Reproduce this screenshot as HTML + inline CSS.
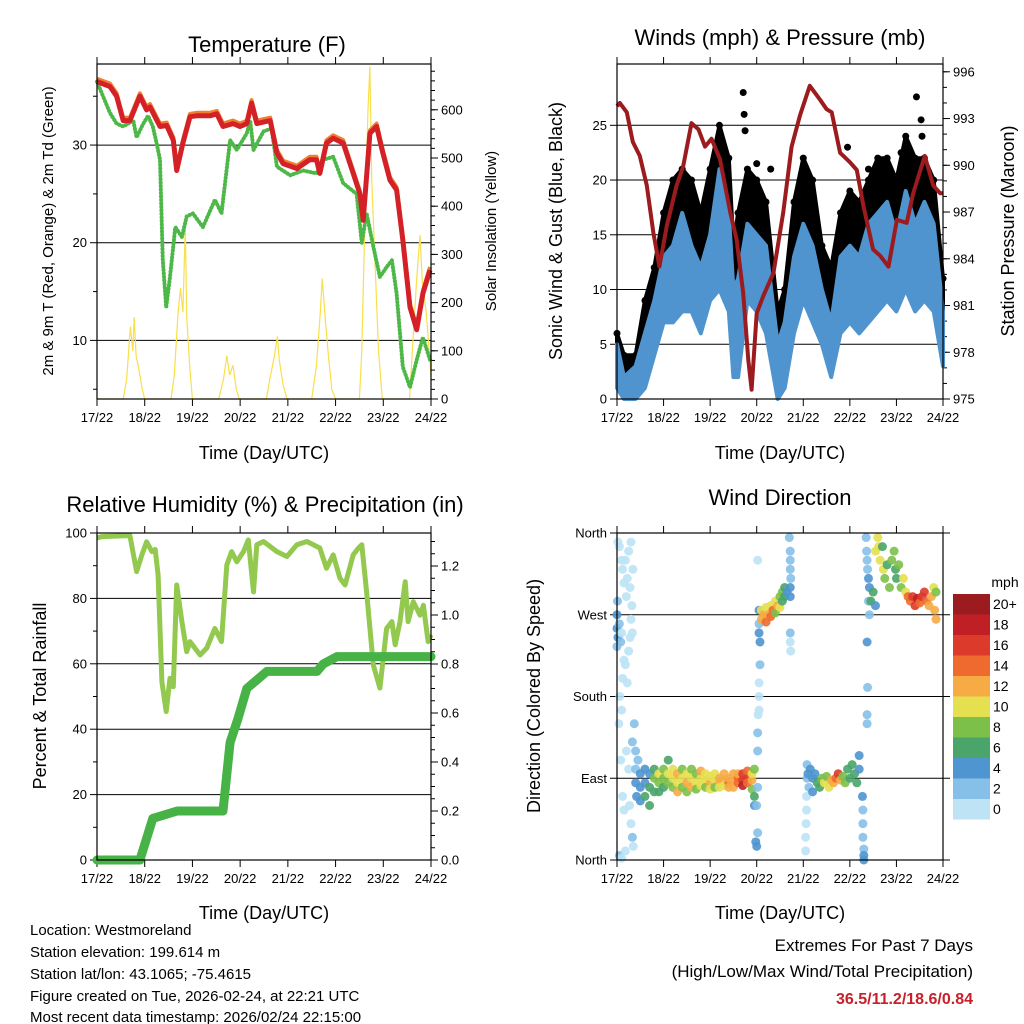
<!DOCTYPE html>
<html><head><meta charset="utf-8"><style>
html,body{margin:0;padding:0;background:#fff;}
svg{display:block;font-family:"Liberation Sans",Arial,sans-serif;}
</style></head><body>
<svg id="c" width="1024" height="1024" viewBox="0 0 1024 1024" xmlns="http://www.w3.org/2000/svg">
<rect width="1024" height="1024" fill="#fff"/>
<text x="267" y="52" font-size="22" text-anchor="middle">Temperature (F)</text>
<text x="780" y="45" font-size="22" text-anchor="middle">Winds (mph) &amp; Pressure (mb)</text>
<text x="265" y="512" font-size="22" text-anchor="middle">Relative Humidity (%) &amp; Precipitation (in)</text>
<text x="780" y="505" font-size="22" text-anchor="middle">Wind Direction</text>
<text x="264" y="459" font-size="18" text-anchor="middle">Time (Day/UTC)</text>
<text x="780" y="459" font-size="18" text-anchor="middle">Time (Day/UTC)</text>
<text x="264" y="919" font-size="18" text-anchor="middle">Time (Day/UTC)</text>
<text x="780" y="919" font-size="18" text-anchor="middle">Time (Day/UTC)</text>
<text transform="translate(53,231) rotate(-90)" font-size="15" text-anchor="middle">2m &amp; 9m T (Red, Orange) &amp; 2m Td (Green)</text>
<text transform="translate(496,231) rotate(-90)" font-size="15" text-anchor="middle">Solar Insolation (Yellow)</text>
<text transform="translate(562,231) rotate(-90)" font-size="18" text-anchor="middle">Sonic Wind &amp; Gust (Blue, Black)</text>
<text transform="translate(1014,231) rotate(-90)" font-size="18" text-anchor="middle">Station Pressure (Maroon)</text>
<text transform="translate(46,696) rotate(-90)" font-size="18" text-anchor="middle">Percent &amp; Total Rainfall</text>
<text transform="translate(540,696) rotate(-90)" font-size="18" text-anchor="middle">Direction (Colored By Speed)</text>
<g font-size="15">
<text x="30" y="935">Location: Westmoreland</text>
<text x="30" y="957">Station elevation: 199.614 m</text>
<text x="30" y="979">Station lat/lon: 43.1065; -75.4615</text>
<text x="30" y="1001">Figure created on Tue, 2026-02-24, at 22:21 UTC</text>
<text x="30" y="1023" dy="-1">Most recent data timestamp: 2026/02/24 22:15:00</text>
</g>
<g font-size="17" text-anchor="end">
<text x="973" y="951">Extremes For Past 7 Days</text>
<text x="973" y="977">(High/Low/Max Wind/Total Precipitation)</text>
<text x="973" y="1004" fill="#c8202a" font-weight="bold" font-size="16">36.5/11.2/18.6/0.84</text>
</g>
<text x="1005" y="587" font-size="14" text-anchor="middle">mph</text>
</svg>
<script>
const dayLabels=["17/22","18/22","19/22","20/22","21/22","22/22","23/22","24/22"];
// Temperature panel
const tempT=[0,0.27,0.41,0.55,0.69,0.90,1.04,1.11,1.32,1.46,1.60,1.67,1.80,1.95,2.09,2.37,2.51,2.64,2.85,3.0,3.14,3.24,3.35,3.63,3.77,3.90,4.19,4.46,4.60,4.67,4.81,4.95,5.16,5.37,5.51,5.58,5.72,5.86,5.99,6.14,6.28,6.41,6.56,6.70,6.83,6.98];
const tempV=[36.5,36,35,32.5,32.5,35,33.6,33.9,31.9,32,30.5,27.4,30.2,32.9,33,33,33.2,31.9,32.2,31.9,32.2,34.3,32.2,32.5,29.2,28.1,27.6,28.5,28.5,27.1,30.2,30.7,30.2,27.1,25,22.3,31.2,31.9,29.2,26.4,25.4,20.3,13.4,11.1,14.8,17.2];
const dewT=[0,0.27,0.41,0.55,0.76,0.83,0.97,1.07,1.17,1.25,1.32,1.38,1.45,1.53,1.64,1.78,1.88,2.01,2.22,2.47,2.61,2.79,2.93,3.14,3.21,3.28,3.49,3.66,3.77,4.05,4.32,4.60,4.74,4.95,5.16,5.44,5.55,5.65,5.79,5.93,6.07,6.18,6.28,6.41,6.56,6.70,6.83,6.98];
const dewV=[36.5,33.3,32.2,31.9,32.5,30.8,32.2,33,31.9,30.2,28.5,18.2,13.4,16.5,21.6,20.6,22.7,23,21.6,24.4,23,30.5,29.5,31.2,32.5,29.5,31.4,31.7,27.8,26.9,27.4,27.1,28.5,28.8,26.1,25,20,23,19.6,16.5,17.5,18.2,14.8,7.3,5.2,8,10.3,8];
const solarT=[0,0.55,0.62,0.7,0.75,0.78,0.82,0.88,0.95,1.0,1.55,1.62,1.7,1.75,1.8,1.85,1.88,1.95,2.0,2.55,2.65,2.72,2.78,2.85,2.92,2.98,3.55,3.62,3.72,3.78,3.82,3.9,3.98,4.5,4.6,4.68,4.72,4.78,4.85,4.92,5.0,5.5,5.55,5.62,5.68,5.72,5.76,5.82,5.9,5.98,6.55,6.62,6.7,6.77,6.82,6.9,7.0];
const solarV=[0,0,40,150,100,170,90,60,20,0,0,50,180,230,180,360,170,60,0,0,40,90,50,70,20,0,0,40,90,130,80,30,0,0,70,180,250,170,90,20,0,0,100,400,600,690,450,300,100,0,0,120,250,340,240,180,50];
// Winds panel
const presT=[0,0.06,0.21,0.34,0.49,0.64,0.78,0.91,1.07,1.28,1.42,1.60,1.75,1.89,2.03,2.21,2.43,2.57,2.71,2.82,2.89,3.0,3.14,3.36,3.57,3.75,3.93,4.14,4.36,4.50,4.61,4.79,5.0,5.15,5.29,5.50,5.65,5.83,6.01,6.22,6.36,6.61,6.79,6.94,7.0];
const presV=[993.8,994.0,993.4,991.5,990.6,988.7,985.7,983.5,986.1,988.7,989.9,992.7,992.3,991.2,991.7,990.4,987.0,985.2,981.8,977.5,975.6,980.5,981.6,983.1,987.0,991.2,993.2,995.1,994.2,993.6,993.4,990.8,990.2,989.7,987.4,984.6,984.2,983.5,986.5,986.3,988.2,990.6,988.7,988.2,988.2];
const windT=[0,0.15,0.4,0.6,0.8,1.0,1.2,1.4,1.6,1.8,2.0,2.2,2.4,2.5,2.6,2.8,3.0,3.2,3.45,3.6,3.8,4.0,4.2,4.4,4.6,4.8,5.0,5.2,5.4,5.6,5.8,6.0,6.2,6.4,6.6,6.8,7.0];
const windHi=[5,2,3,6,9,13,14,17,14,12,15,21,17,10,11,16,15,14,5,7,13,16,14,10,7,13,14,13,16,17,18,15,19,16,18,16,8];
const windLo=[1,0,0,1,4,7,7,8,8,6,9,10,8,2,2,9,8,6,0,1,6,9,7,5,2,6,7,6,7,8,9,8,10,8,9,8,3];
const gustHi=[6,4,4,9,12,17,20,21,20,17,21,25,22,14,17,21,20,18,8,10,18,22,20,14,12,17,19,18,20,22,22,20,24,22,22,20,11];
const gustLo=[2,1,1,3,6,10,11,12,11,9,12,14,12,5,6,13,12,10,2,3,10,13,11,7,4,9,11,9,11,12,12,11,13,12,12,11,6];
const gustOutT=[2.71,2.73,2.75,6.43,6.53,6.55,2.2,3.0,4.95,5.4,1.35,6.1,3.3];
const gustOutV=[28,26,24.5,27.6,25.5,24,22,21.5,23,21,20.5,22.5,21];
// RH panel
const rhT=[0,0.10,0.69,0.83,0.94,1.04,1.15,1.22,1.28,1.36,1.45,1.53,1.60,1.67,1.78,1.88,1.95,2.16,2.30,2.47,2.61,2.72,2.82,2.93,3.07,3.17,3.28,3.35,3.49,3.77,3.98,4.19,4.40,4.67,4.81,4.95,5.09,5.20,5.37,5.48,5.55,5.65,5.79,5.93,6.07,6.18,6.25,6.35,6.46,6.52,6.63,6.77,6.84,6.94,7.0];
const rhV=[98.5,98.9,99.2,88.2,93.3,97.3,94.3,95,87.2,54.5,45.4,55.6,53,84.1,72.9,63.7,66.8,62.7,64.8,70.8,66.8,90.2,94.3,91.2,94.3,97.9,82,96.4,97.4,94.3,92.8,96.4,97.4,95.4,89.2,93.3,86.2,84.1,93.3,95.4,96.4,82,59.6,52.6,70.8,72.9,65.8,72.9,85.1,72.9,79,74.9,77.9,66.8,68.9];
const rainT=[0,0.90,1.17,1.68,2.64,2.79,2.96,3.14,3.56,4.61,4.74,5.03,7.0];
const rainV=[0,0,0.17,0.2,0.2,0.48,0.58,0.70,0.77,0.77,0.80,0.83,0.83];
// Wind direction panel: [time(days), direction(deg), speed(mph)]
const dirPts=[[0.02,350,1],[0.05,345,0],[0.1,330,1],[0.12,320,0],[0.15,305,1],[0.18,330,0],[0.2,290,1],[0.22,310,0],[0.25,340,1],[0.28,300,0],[0.3,350,1],[0.32,280,0],[0.34,320,1],[0.0,270,4],[0.0,255,4],[0.01,285,3],[0.02,245,4],[0.0,235,3],[0.05,260,3],[0.08,240,2],[0.1,250,1],[0.15,220,1],[0.12,200,1],[0.18,215,0],[0.22,195,0],[0.25,230,1],[0.28,245,1],[0.3,265,0],[0.33,250,1],[0.06,180,1],[0.1,165,0],[0.04,150,0],[0.2,120,1],[0.25,100,1],[0.08,110,0],[0.15,55,0],[0.3,40,1],[0.33,25,2],[0.35,15,1],[0.12,70,1],[0.27,60,0],[0.05,5,2],[0.1,2,1],[0.18,10,0],[0.33,130,2],[0.37,150,3],[0.4,120,3],[0.4,100,3],[0.4,85,4],[0.42,70,4],[0.45,110,3],
[0.5,95,4],[0.5,80,5],[0.5,65,4],[0.6,100,4],[0.6,85,5],[0.6,70,6],[0.7,95,5],[0.7,80,6],[0.7,60,6],[0.8,90,8],[0.8,75,7],[0.8,100,6],[0.9,85,8],[0.9,95,10],[0.9,75,7],[1.0,90,9],[1.0,100,8],[1.0,80,7],[1.1,95,10],[1.1,85,9],[1.1,110,7],[1.2,90,11],[1.2,100,10],[1.2,80,9],[1.3,95,13],[1.3,85,10],[1.3,75,12],[1.4,90,10],[1.4,80,9],[1.4,100,8],[1.5,85,12],[1.5,95,10],[1.5,75,9],[1.6,90,11],[1.6,80,12],[1.6,100,9],[1.7,85,10],[1.7,95,9],[1.7,78,8],[1.8,90,11],[1.8,82,10],[1.8,98,12],[1.9,88,10],[1.9,80,9],[1.9,95,11],[2.0,85,12],[2.0,92,10],[2.0,78,11],[2.1,88,10],[2.1,80,9],[2.1,95,10],[2.2,85,12],[2.2,90,13],[2.2,80,11],[2.3,88,12],[2.3,82,10],[2.3,95,12],[2.4,85,14],[2.4,90,12],[2.4,80,13],[2.5,88,12],[2.5,95,13],[2.5,80,12],[2.6,90,15],[2.6,85,14],[2.6,95,12],[2.7,88,17],[2.7,82,18],[2.7,95,16],[2.8,90,16],[2.8,85,14],[2.8,98,15],[2.9,88,12],[2.9,78,8],[2.9,95,10],[2.95,70,6],[2.95,60,5],[2.95,100,9],
[3.0,15,4],[2.98,20,4],[3.02,30,2],[3.0,60,2],[3.02,80,2],[3.02,120,3],[3.02,140,2],[3.03,160,1],[3.05,165,0],[3.05,180,1],[3.05,195,1],[3.07,215,3],[3.07,240,4],[3.05,250,4],[3.05,260,3],[3.05,275,4],[3.02,330,1],
[3.1,265,12],[3.1,275,10],[3.15,270,13],[3.2,262,14],[3.2,278,11],[3.25,270,12],[3.3,268,14],[3.3,280,10],[3.35,275,15],[3.4,285,11],[3.4,272,9],[3.45,280,13],[3.5,290,8],[3.5,278,10],[3.55,285,7],[3.55,295,9],[3.6,290,6],[3.6,300,6],[3.65,295,5],
[3.7,355,3],[3.72,340,3],[3.72,330,2],[3.72,320,3],[3.73,310,3],[3.72,300,4],[3.72,290,5],[3.72,250,2],[3.72,240,1],[3.73,230,1],
[4.05,10,1],[4.05,25,1],[4.06,40,0],[4.07,55,1],[4.07,70,1],[4.08,90,2],[4.08,105,3],[4.1,95,4],[4.12,80,3],[4.15,100,4],[4.2,90,4],[4.2,75,5],[4.25,95,4],[4.3,85,6],[4.35,80,7],[4.4,90,8],[4.45,85,10],[4.5,92,9],[4.55,80,10],[4.6,88,12],[4.65,85,12],[4.7,90,14],[4.75,95,16],[4.8,88,12],[4.85,92,9],[4.9,85,8],[4.95,100,7],[5.0,90,6],[5.05,105,6],[5.1,95,7],[5.15,85,6],[5.2,100,5],[5.2,115,5],
[5.27,70,4],[5.28,55,3],[5.28,40,3],[5.28,25,3],[5.3,12,3],[5.3,5,4],[5.3,0,4],
[5.35,355,2],[5.36,340,2],[5.37,330,2],[5.38,320,3],[5.4,310,4],[5.42,300,4],[5.4,285,3],[5.42,270,2],[5.37,240,4],[5.38,190,2],[5.37,160,3],[5.37,150,3],
[5.45,285,6],[5.5,295,7],[5.55,280,5],[5.55,340,10],[5.6,355,10],[5.62,345,10],[5.65,330,11],[5.7,345,7],[5.72,320,10],[5.75,310,8],[5.8,325,7],[5.85,300,8],[5.9,330,8],[5.95,340,9],[5.98,320,6],[6.0,310,7],[6.05,325,8],[6.1,300,9],[6.15,310,10],[6.2,295,11],
[6.25,290,14],[6.3,285,15],[6.35,290,17],[6.4,280,16],[6.45,288,18],[6.5,283,14],[6.55,290,16],[6.6,295,17],[6.65,285,15],[6.7,280,12],[6.75,290,13],[6.8,300,11],[6.82,275,12],[6.85,265,13],[6.85,295,9]];
const cbLabels=["20+","18","16","14","12","10","8","6","4","2","0"];
const cbColors=["#9b1b1e","#c01f26","#dc3a2a","#ee6a2f","#f6ab45","#e4e050","#7cc04a","#4aa56a","#4f95cf","#86c0e8","#bde3f5"];

const svg=document.getElementById('c');
const NS="http://www.w3.org/2000/svg";
function mk(tag,attrs,parent){const e=document.createElementNS(NS,tag);for(const k in attrs)e.setAttribute(k,attrs[k]);(parent||svg).appendChild(e);return e;}
function lin(d0,d1,r0,r1){return v=>r0+(v-d0)*(r1-r0)/(d1-d0);}
function pathOf(ts,vs,X,Y){return ts.map((t,i)=>(i?'L':'M')+X(t).toFixed(1)+','+Y(vs[i]).toFixed(1)).join('');}

function frame(x0,x1,y0,y1,name){
  const g=mk('g',{});
  
  
  const X=lin(0,7,x0,x1);
  for(let d=0;d<=7;d++){
    const x=X(d);
    mk('line',{x1:x,x2:x,y1:y1,y2:y1+7,stroke:'#000','stroke-width':1},g);
    mk('line',{x1:x,x2:x,y1:y0,y2:y0-7,stroke:'#000','stroke-width':1},g);
    const t=mk('text',{x:x,y:y1+23,'font-size':13,'text-anchor':'middle'},g);
    
    
    t.textContent=dayLabels[d];
  }
  return {g,X};
}
function leftAxis(g,x0,x1,Y,ticks,minors,fmt,grid){
  minors.forEach(v=>mk('line',{x1:x0,x2:x0-4,y1:Y(v),y2:Y(v),stroke:'#000','stroke-width':1},g));
  ticks.forEach(v=>{
    mk('line',{x1:x0,x2:x0-7,y1:Y(v),y2:Y(v),stroke:'#000','stroke-width':1},g);
    if(grid)mk('line',{x1:x0,x2:x1,y1:Y(v),y2:Y(v),stroke:'#000','stroke-width':1},g);
    const t=mk('text',{x:x0-10,y:Y(v)+4.5,'font-size':13,'text-anchor':'end'},g);
    
    
    t.textContent=fmt(v);
  });
}
function rightAxis(g,x1,Y,ticks,minors,fmt){
  minors.forEach(v=>mk('line',{x1:x1,x2:x1+4,y1:Y(v),y2:Y(v),stroke:'#000','stroke-width':1},g));
  ticks.forEach(v=>{
    mk('line',{x1:x1,x2:x1+7,y1:Y(v),y2:Y(v),stroke:'#000','stroke-width':1},g);
    const t=mk('text',{x:x1+10,y:Y(v)+4.5,'font-size':13,'text-anchor':'start'},g);
    
    
    t.textContent=fmt(v);
  });
}
function border(g,x0,x1,y0,y1){mk('rect',{x:x0,y:y0,width:x1-x0,height:y1-y0,fill:'none',stroke:'#000','stroke-width':1.2},g);}

// ---- Temperature panel
(function(){
  const x0=97,x1=431,y0=64,y1=399;
  const {g,X}=frame(x0,x1,y0,y1,'temperature-panel');
  const Y=lin(4,38.3,399,64), S=lin(0,695,399,64);
  leftAxis(g,x0,x1,Y,[10,20,30],[5,15,25,35],v=>v,true);
  const sm=[];for(let v=0;v<=680;v+=20)sm.push(v);
  rightAxis(g,x1,S,[0,100,200,300,400,500,600],sm,v=>v);
  const sol=mk('path',{d:pathOf(solarT,solarV,X,S),fill:'none',stroke:'#f9df4a','stroke-width':1.2},g);
  
  
  const dew=mk('path',{d:pathOf(dewT,dewV,X,Y),fill:'none',stroke:'#4db848','stroke-width':4,'stroke-dasharray':'0.5 3','stroke-linecap':'round','stroke-linejoin':'round'},g);
  
  
  const t9=mk('path',{d:pathOf(tempT,tempV.map(v=>v+0.3),X,Y),fill:'none',stroke:'#f08030','stroke-width':4,'stroke-linejoin':'round'},g);
  
  
  const t2=mk('path',{d:pathOf(tempT,tempV,X,Y),fill:'none',stroke:'#d42027','stroke-width':5,'stroke-linejoin':'round'},g);
  
  
  border(g,x0,x1,y0,y1);
})();

// ---- Winds panel
(function(){
  const x0=617,x1=943,y0=64,y1=399;
  const {g,X}=frame(x0,x1,y0,y1,'winds-panel');
  const Y=lin(0,30.6,399,64), P=lin(975,996.5,399,64);
  leftAxis(g,x0,x1,Y,[0,5,10,15,20,25],[],v=>v,true);
  const pm=[];for(let v=975;v<=996;v++)pm.push(v);
  rightAxis(g,x1,P,[975,978,981,984,987,990,993,996],pm,v=>v);
  const band=(hi,lo,col,name)=>{
    const d=pathOf(windT,hi,X,Y)+windT.slice().reverse().map((t,i)=>'L'+X(t).toFixed(1)+','+Y(lo[lo.length-1-i]).toFixed(1)).join('')+'Z';
    const p=mk('path',{d:d,fill:col,stroke:col,'stroke-width':4,'stroke-linejoin':'round'},g);
    
    
  };
  band(gustHi,gustLo,'#000','gust-band');
  windT.forEach((t,i)=>{
    const c=mk('circle',{cx:X(t),cy:Y(gustHi[i]),r:3.5,fill:'#000'},g);
    
    
  });
  gustOutT.forEach((t,i)=>{
    const c=mk('circle',{cx:X(t),cy:Y(gustOutV[i]),r:3.5,fill:'#000'},g);
    
    
  });
  band(windHi,windLo,'#4f94cf','wind-band');
  const pr=mk('path',{d:pathOf(presT,presV,X,P),fill:'none',stroke:'#9b1b1e','stroke-width':4,'stroke-linejoin':'round'},g);
  
  
  border(g,x0,x1,y0,y1);
})();

// ---- RH panel
(function(){
  const x0=97,x1=431,y0=533,y1=860;
  const {g,X}=frame(x0,x1,y0,y1,'humidity-panel');
  const Y=lin(0,100,860,533), R=lin(0,1.2,860,566);
  leftAxis(g,x0,x1,Y,[0,20,40,60,80,100],[10,30,50,70,90],v=>v,true);
  const rm=[];for(let v=0;v<=1.32;v+=0.05)rm.push(v);
  rightAxis(g,x1,R,[0,0.2,0.4,0.6,0.8,1.0,1.2],rm,v=>v.toFixed(1));
  const rh=mk('path',{d:pathOf(rhT,rhV,X,Y),fill:'none',stroke:'#92c94e','stroke-width':5,'stroke-linejoin':'round'},g);
  
  
  const rn=mk('path',{d:pathOf(rainT,rainV,X,R),fill:'none',stroke:'#47b246','stroke-width':9,'stroke-linejoin':'round','stroke-linecap':'round'},g);
  
  
  border(g,x0,x1,y0,y1);
})();

// ---- Direction panel
(function(){
  const x0=617,x1=943,y0=533,y1=860;
  const {g,X}=frame(x0,x1,y0,y1,'direction-panel');
  const Y=lin(0,360,860,533);
  const names=["North","East","South","West","North"];
  [0,90,180,270,360].forEach((v,i)=>{
    mk('line',{x1:x0,x2:x0-7,y1:Y(v),y2:Y(v),stroke:'#000'},g);
    mk('line',{x1:x0,x2:x1,y1:Y(v),y2:Y(v),stroke:'#000','stroke-width':1},g);
    mk('line',{x1:x1,x2:x1+7,y1:Y(v),y2:Y(v),stroke:'#000'},g);
    const t=mk('text',{x:x0-10,y:Y(v)+4.5,'font-size':13,'text-anchor':'end'},g);
    
    
    t.textContent=names[i];
  });
  const colOf=s=>{const idx=Math.min(10,Math.floor(s/2));return cbColors[10-idx];};
  dirPts.forEach(p=>{
    const c=mk('circle',{cx:X(p[0]),cy:Y(p[1]),r:4.5,fill:colOf(p[2]),'fill-opacity':0.9},g);
    
    
  });
  border(g,x0,x1,y0,y1);
  const cb=mk('g',{});
  
  
  const h=20.5;
  cbLabels.forEach((lab,i)=>{
    const r=mk('rect',{x:953,y:594+i*h,width:37,height:h,fill:cbColors[i]},cb);
    
    
    const t=mk('text',{x:993,y:594+i*h+15,'font-size':14},cb);
    
    
    t.textContent=lab;
  });
})();
</script>
</body></html>
